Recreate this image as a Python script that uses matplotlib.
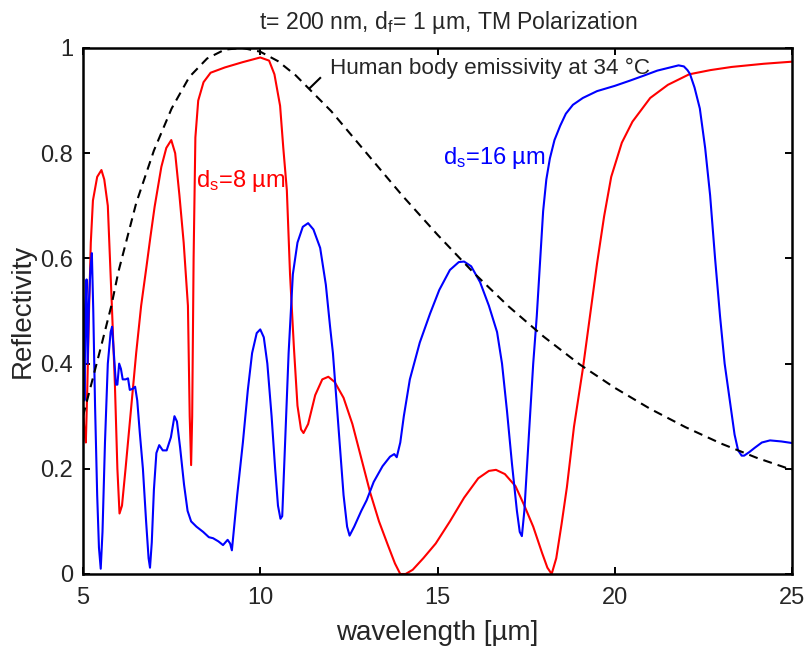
import matplotlib
matplotlib.use("Agg")
import matplotlib.pyplot as plt

plt.rcParams['font.family'] = ['Liberation Sans', 'DejaVu Sans']
plt.rcParams['mathtext.fontset'] = 'custom'
plt.rcParams['mathtext.rm'] = 'Liberation Sans'
plt.rcParams['mathtext.it'] = 'Liberation Sans:italic'

# ---- data ----
red_x = [5.0, 5.04, 5.08, 5.12, 5.17, 5.22, 5.28, 5.4, 5.52, 5.6, 5.7, 5.76, 5.82, 5.9,
         5.97, 6.03, 6.1, 6.2, 6.35, 6.5, 6.64, 6.79, 6.9, 7.02, 7.21, 7.35, 7.49, 7.6,
         7.72, 7.84, 7.96, 8.01, 8.05, 8.08, 8.12, 8.17, 8.25, 8.4, 8.6, 9.0, 9.5, 10.0,
         10.25, 10.4, 10.56, 10.65, 10.75, 10.84, 10.95, 11.05, 11.15, 11.22, 11.35,
         11.55, 11.75, 11.92, 12.1, 12.35, 12.6, 12.85, 13.1, 13.35, 13.6, 13.8, 13.95,
         14.1, 14.3, 14.6, 14.95, 15.35, 15.75, 16.15, 16.45, 16.65, 16.9, 17.2, 17.45,
         17.7, 17.95, 18.1, 18.22, 18.35, 18.5, 18.65, 18.85, 19.1, 19.3, 19.5, 19.7,
         19.9, 20.2, 20.5, 21.0, 21.5, 22.1, 22.7, 23.3, 24.2, 25.0]
red_y = [0.32, 0.27, 0.25, 0.35, 0.50, 0.63, 0.71, 0.755, 0.768, 0.75, 0.70, 0.60,
         0.50, 0.36, 0.20, 0.115, 0.13, 0.20, 0.31, 0.42, 0.51, 0.584, 0.64, 0.698,
         0.774, 0.81, 0.825, 0.80, 0.72, 0.63, 0.51, 0.30, 0.207, 0.30, 0.60, 0.83,
         0.90, 0.935, 0.953, 0.963, 0.973, 0.982, 0.976, 0.95, 0.89, 0.81, 0.73, 0.57,
         0.43, 0.32, 0.275, 0.268, 0.285, 0.34, 0.37, 0.375, 0.365, 0.335, 0.285, 0.22,
         0.155, 0.10, 0.055, 0.02, 0.0, 0.0, 0.008, 0.03, 0.058, 0.10, 0.145, 0.182,
         0.196, 0.198, 0.19, 0.167, 0.13, 0.09, 0.04, 0.012, 0.0, 0.03, 0.095, 0.165,
         0.28, 0.39, 0.49, 0.59, 0.68, 0.755, 0.82, 0.86, 0.905, 0.93, 0.95, 0.958,
         0.964, 0.97, 0.974]

blue_x = [5.0, 5.02, 5.04, 5.07, 5.1, 5.13, 5.17, 5.21, 5.25, 5.29, 5.34, 5.4, 5.45,
          5.5, 5.55, 5.62, 5.7, 5.78, 5.82, 5.87, 5.93, 5.97, 6.02, 6.07, 6.12, 6.2,
          6.27, 6.32, 6.4, 6.47, 6.53, 6.6, 6.69, 6.78, 6.85, 6.89, 6.94, 7.0, 7.07,
          7.15, 7.25, 7.36, 7.48, 7.58, 7.65, 7.74, 7.85, 7.95, 8.05, 8.2, 8.39, 8.55,
          8.67, 8.82, 8.95, 9.08, 9.15, 9.2, 9.25, 9.35, 9.51, 9.65, 9.77, 9.9, 10.0,
          10.1, 10.2, 10.32, 10.42, 10.5, 10.57, 10.62, 10.7, 10.8, 10.92, 11.05, 11.2,
          11.35, 11.5, 11.69, 11.85, 11.97, 12.05, 12.15, 12.25, 12.35, 12.45, 12.52,
          12.65, 12.85, 13.0, 13.2, 13.45, 13.66, 13.78, 13.85, 13.95, 14.05, 14.22,
          14.5, 14.79, 15.05, 15.35, 15.6, 15.75, 15.95, 16.2, 16.45, 16.68, 16.82,
          16.96, 17.1, 17.24, 17.32, 17.38, 17.45, 17.52, 17.61, 17.7, 17.8, 17.9,
          17.98, 18.07, 18.17, 18.3, 18.46, 18.62, 18.82, 19.1, 19.5, 20.0, 20.43,
          20.8, 21.2, 21.5, 21.8, 21.95, 22.05, 22.12, 22.25, 22.4, 22.55, 22.69,
          22.83, 22.97, 23.1, 23.25, 23.38, 23.48, 23.58, 23.65, 23.8, 23.95, 24.15,
          24.38, 24.7, 25.0]
blue_y = [0.60, 0.45, 0.33, 0.50, 0.56, 0.40, 0.52, 0.58, 0.61, 0.50, 0.32, 0.15,
          0.05, 0.01, 0.08, 0.25, 0.40, 0.46, 0.47, 0.42, 0.36, 0.36, 0.40, 0.39,
          0.37, 0.37, 0.372, 0.35, 0.352, 0.356, 0.33, 0.27, 0.20, 0.10, 0.03, 0.012,
          0.06, 0.16, 0.23, 0.245, 0.235, 0.235, 0.26, 0.30, 0.29, 0.24, 0.17, 0.12,
          0.10, 0.09, 0.08, 0.07, 0.068, 0.062, 0.055, 0.065, 0.058, 0.045, 0.08, 0.15,
          0.25, 0.35, 0.42, 0.458, 0.465, 0.45, 0.40, 0.30, 0.20, 0.13, 0.105, 0.11,
          0.25, 0.42, 0.57, 0.63, 0.66, 0.667, 0.655, 0.62, 0.55, 0.47, 0.42, 0.33,
          0.24, 0.15, 0.09, 0.073, 0.09, 0.12, 0.14, 0.175, 0.205, 0.223, 0.228, 0.222,
          0.25, 0.30, 0.37, 0.44, 0.495, 0.54, 0.578, 0.593, 0.594, 0.585, 0.555, 0.51,
          0.46, 0.40, 0.31, 0.21, 0.12, 0.08, 0.072, 0.12, 0.20, 0.30, 0.40, 0.49, 0.60,
          0.69, 0.75, 0.79, 0.825, 0.852, 0.875, 0.892, 0.905, 0.918, 0.928, 0.938,
          0.947, 0.957, 0.962, 0.967, 0.965, 0.958, 0.951, 0.925, 0.885, 0.81, 0.72,
          0.60, 0.49, 0.40, 0.328, 0.265, 0.235, 0.225, 0.225, 0.232, 0.24, 0.25,
          0.254, 0.252, 0.249]

body_x = [5.0, 5.5, 5.8, 6.0, 6.5, 7.0, 7.5, 8.0, 8.5, 9.0, 9.5, 10.0, 10.5, 11.0,
          12.0, 13.0, 14.0, 15.0, 16.0, 17.0, 18.0, 19.0, 20.0, 21.0, 22.0, 23.0,
          24.0, 25.0]
body_y = [0.30, 0.43, 0.51, 0.575, 0.705, 0.805, 0.885, 0.945, 0.98, 0.997, 1.0,
          0.993, 0.975, 0.948, 0.88, 0.80, 0.72, 0.645, 0.574, 0.509, 0.451, 0.399,
          0.354, 0.314, 0.279, 0.248, 0.221, 0.198]

x_ticks = [5, 10, 15, 20, 25]
y_ticks = [0, 0.2, 0.4, 0.6, 0.8, 1]
y_tick_labels = ['0', '0.2', '0.4', '0.6', '0.8', '1']

TXT = '#262626'

fig = plt.figure(figsize=(8.06, 6.48), dpi=100)
ax = fig.add_axes([83/806, 1 - 574/648, (792-83)/806, (574-48)/648])

ax.plot(body_x, body_y, color='black', lw=1.5, dashes=(4.3, 2.9), zorder=3)
ax.plot(red_x, red_y, color='#ff0000', lw=1.5, zorder=2)
ax.plot(blue_x, blue_y, color='#0000ff', lw=1.5, zorder=2)

# short pointer line from the annotation to the dashed curve
ax.plot([11.40, 11.69], [0.924, 0.943], color='black', lw=1.5)

ax.text(11.97, 0.95, 'Human body emissivity at 34 °C', fontsize=16.2,
        color=TXT, ha='left', va='baseline')
ax.text(8.2, 0.736, r'd$_\mathrm{s}$=8 µm', fontsize=17, color='#ff0000',
        ha='left', va='baseline')
ax.text(15.16, 0.78, r'd$_\mathrm{s}$=16 µm', fontsize=17, color='#0000ff',
        ha='left', va='baseline')

ax.set_xlim(5, 25)
ax.set_ylim(0, 1)
ax.set_xticks(x_ticks)
ax.set_xticklabels([str(v) for v in x_ticks])
ax.set_yticks(y_ticks)
ax.set_yticklabels(y_tick_labels)
ax.tick_params(direction='in', top=True, right=True, length=5, width=1.4,
               labelsize=17, labelcolor=TXT, colors='black')
ax.tick_params(axis='x', pad=9)
ax.tick_params(axis='y', pad=7)
for s in ax.spines.values():
    s.set_linewidth(1.8)
    s.set_color('black')

ax.set_xlabel('wavelength [µm]', fontsize=20, color=TXT)
ax.xaxis.set_label_coords(0.5, -0.087)
ax.set_ylabel('Reflectivity', fontsize=20, color=TXT)
ax.yaxis.set_label_coords(-0.067, 0.5)

fig.text(448/806, 1 - 29/648, r't= 200 nm, d$_\mathrm{f}$= 1 µm, TM Polarization',
         fontsize=16.6, color=TXT, ha='center', va='baseline')

fig.savefig('out.png', dpi=100)
